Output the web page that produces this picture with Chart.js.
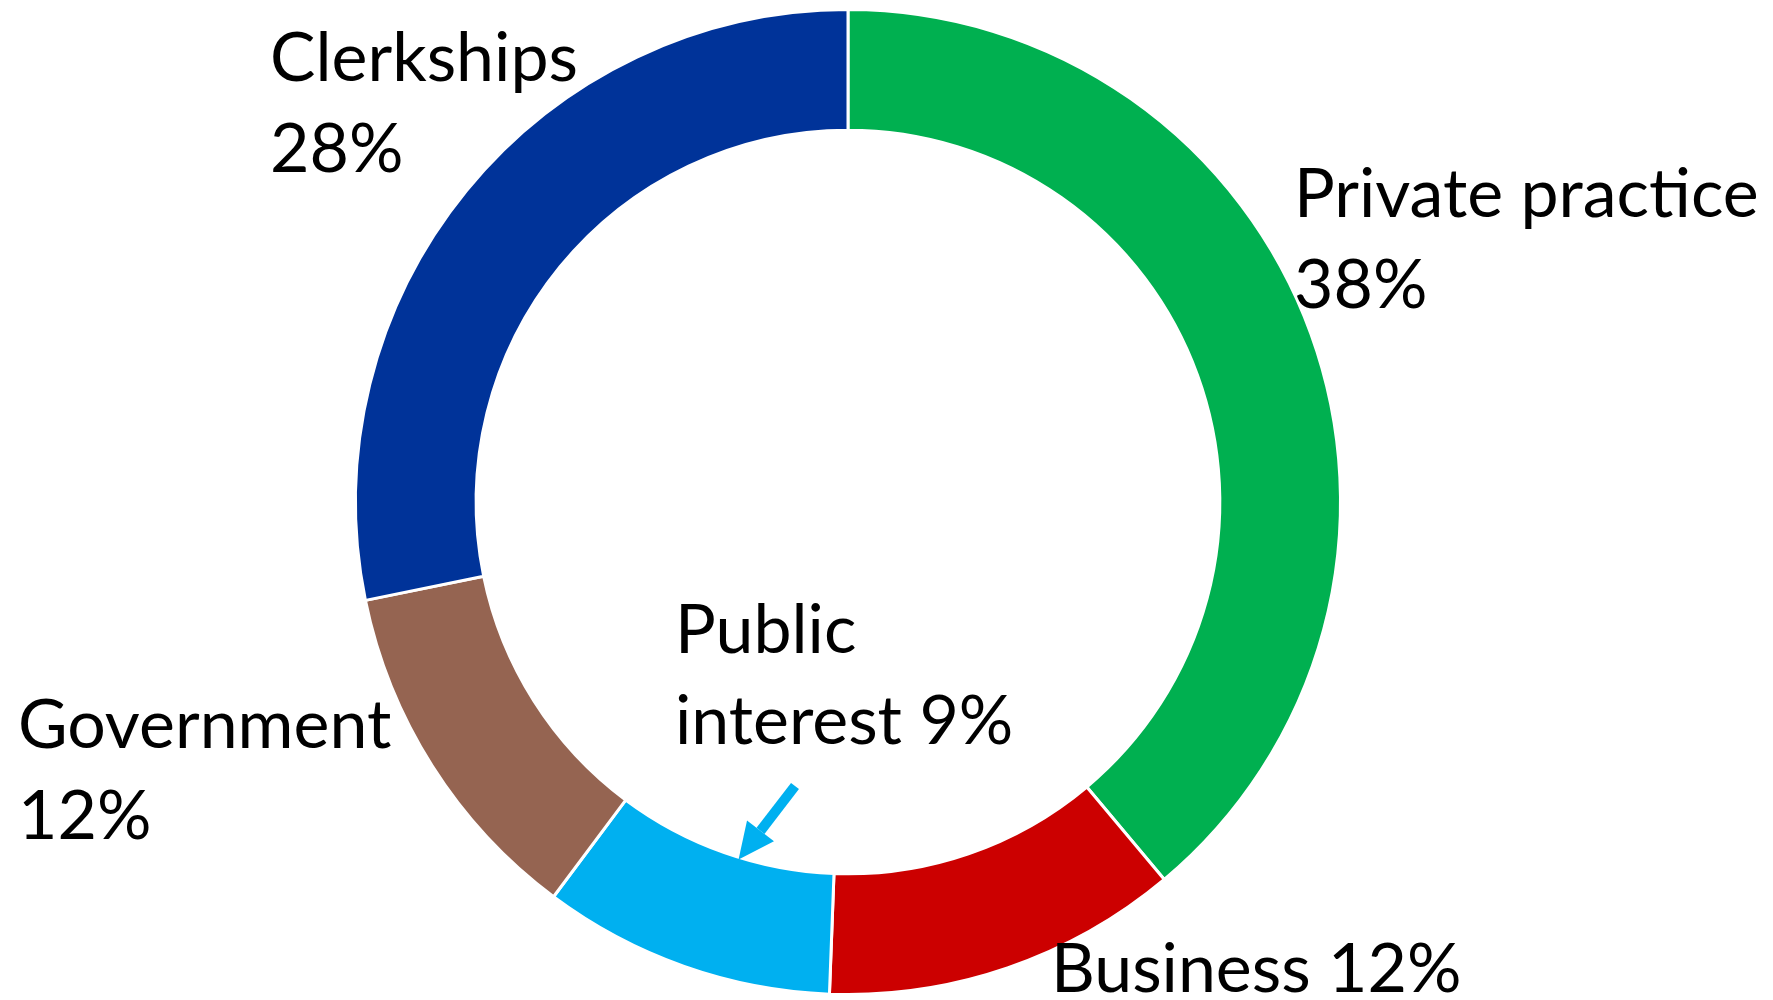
<!DOCTYPE html>
<html>
<head>
<meta charset="utf-8">
<script src="https://cdn.jsdelivr.net/npm/chart.js@4/dist/chart.umd.min.js"></script>
<style>
  html, body { margin: 0; padding: 0; background: #ffffff; }
  canvas { display: block; }
</style>
</head>
<body>
<canvas id="careerChart" width="1773" height="1000"></canvas>
<script>
// data (slice shares, clockwise from 12 o'clock)
const categories = ["Private practice", "Business", "Public interest", "Government", "Clerkships"];
const shares = [38.9, 11.7, 9.6, 11.6, 28.2];
const shareLabels = ["38%", "12%", "9%", "12%", "28%"];
const sliceColors = ["#00B050", "#CC0000", "#00B0F0", "#956451", "#003399"];

// label text lines and where they sit (left edge, middle of first line)
const labelLines = [
    ["Private practice", "38%"],
    ["Business 12%"],
    ["Public", "interest 9%"],
    ["Government", "12%"],
    ["Clerkships", "28%"]
];
const labelPos = [
    [1294, 195],
    [1051, 970],
    [675, 631],
    [18, 726],
    [270, 59]
];

const FONT = "\"Lato\", \"Noto Sans\", sans-serif";
const FONT_SIZE = 68;
const LINE_GAP = 91;

const labelPlugin = {
    id: "sliceLabels",
    afterDraw(chart) {
        const ctx = chart.ctx;
        const arcs = chart.getDatasetMeta(0).data;
        ctx.save();

        // arrow pointing at the public interest slice
        const pi = arcs[2];
        const a = pi.startAngle + 0.43 * (pi.endAngle - pi.startAngle);
        const tipX = pi.x + Math.cos(a) * (pi.innerRadius + 2);
        const tipY = pi.y + Math.sin(a) * (pi.innerRadius + 2);
        const tailX = 795, tailY = 786;
        const ang = Math.atan2(tipY - tailY, tipX - tailX);
        const headLen = 36, headW = 17;
        const baseX = tipX - Math.cos(ang) * headLen;
        const baseY = tipY - Math.sin(ang) * headLen;
        ctx.strokeStyle = "#00B0F0";
        ctx.fillStyle = "#00B0F0";
        ctx.lineWidth = 10;
        ctx.beginPath();
        ctx.moveTo(tailX, tailY);
        ctx.lineTo(baseX, baseY);
        ctx.stroke();
        ctx.beginPath();
        ctx.moveTo(tipX, tipY);
        ctx.lineTo(baseX + Math.sin(ang) * headW, baseY - Math.cos(ang) * headW);
        ctx.lineTo(baseX - Math.sin(ang) * headW, baseY + Math.cos(ang) * headW);
        ctx.closePath();
        ctx.fill();

        ctx.fillStyle = "#000000";
        ctx.font = FONT_SIZE + "px " + FONT;
        ctx.textBaseline = "middle";
        ctx.textAlign = "left";
        labelLines.forEach((lines, i) => {
            lines.forEach((t, j) => {
                ctx.fillText(t, labelPos[i][0], labelPos[i][1] + j * LINE_GAP);
            });
        });
        ctx.restore();
    }
};

new Chart(document.getElementById("careerChart"), {
    type: "doughnut",
    data: {
        labels: categories,
        datasets: [{
            data: shares,
            backgroundColor: sliceColors,
            borderColor: "#ffffff",
            borderWidth: 3
        }]
    },
    options: {
        responsive: false,
        animation: false,
        cutout: "75.5%",
        layout: { padding: { top: 8, bottom: 4, left: 0, right: 77 } },
        plugins: {
            legend: { display: false },
            tooltip: { enabled: false }
        }
    },
    plugins: [labelPlugin]
});
</script>
</body>
</html>
